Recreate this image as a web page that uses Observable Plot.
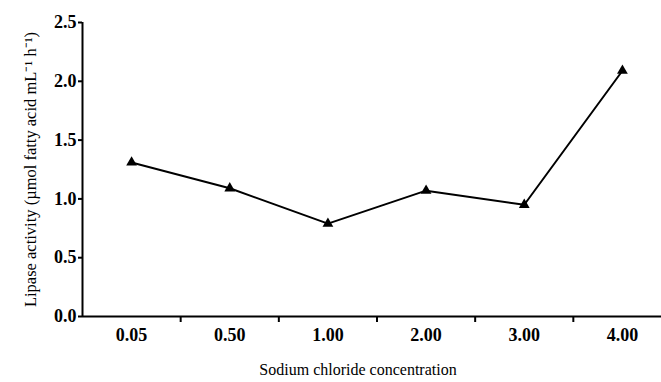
<!DOCTYPE html>
<html>
<head>
<meta charset="utf-8">
<script src="https://cdn.jsdelivr.net/npm/d3@7"></script>
<script src="https://cdn.jsdelivr.net/npm/@observablehq/plot@0.6"></script>
<style>
  html, body { margin: 0; padding: 0; background: #fff; }
  svg { display: block; }
</style>
</head>
<body>
<div id="chart"></div>
<script>
const categories = ["0.05", "0.50", "1.00", "2.00", "3.00", "4.00"];
const lipase = [1.31, 1.09, 0.79, 1.07, 0.95, 2.09];
const yTicks = [0, 0.5, 1.0, 1.5, 2.0, 2.5];
const xLabel = "Sodium chloride concentration";
const yLabel = "Lipase activity (\u00b5mol fatty acid mL\u207b\u00b9 h\u207b\u00b9)";

const data = categories.map((c, i) => ({i, c, v: lipase[i]}));
const idx = categories.map((c, i) => i);
const bounds = idx.slice(1).map(i => i - 0.5);

const font = "'Liberation Serif', 'Times New Roman', serif";

const chart = Plot.plot({
  width: 661,
  height: 382,
  marginLeft: 82,
  marginRight: 0,
  marginTop: 22,
  marginBottom: 66,
  style: {fontFamily: font, fontSize: "16px", color: "#000", background: "#fff"},
  x: {domain: [-0.5, categories.length - 0.5], range: [82, 671]},
  y: {domain: [0, 2.5]},
  marks: [
    Plot.axisY(yTicks, {tickSize: 4, tickPadding: 2, tickFormat: d3.format(".1f"), fontWeight: "bold", fontSize: 18, label: null, strokeWidth: 2}),
    Plot.axisX(bounds, {tickSize: 6, tickFormat: () => "", label: null, strokeWidth: 2}),
    Plot.axisX(idx, {tickSize: 0, tickPadding: 12, tickFormat: i => categories[i], fontWeight: "bold", fontSize: 18, label: null}),
    Plot.ruleY([0], {stroke: "#000", strokeWidth: 2}),
    Plot.ruleX([-0.5], {stroke: "#000", strokeWidth: 2}),
    Plot.line(data, {x: "i", y: "v", stroke: "#000", strokeWidth: 2}),
    Plot.dot(data, {x: "i", y: "v", symbol: "triangle", r: 4, fill: "#000", stroke: "none"}),
    Plot.text([xLabel], {frameAnchor: "bottom", textAnchor: "middle", dx: -14, dy: 53, fontSize: 16, fill: "#000", lineAnchor: "middle"}),
    Plot.text([yLabel], {frameAnchor: "left", textAnchor: "middle", rotate: -90, dx: -52, fontSize: 16.5, fill: "#000", lineAnchor: "middle"})
  ]
});
document.getElementById("chart").appendChild(chart);
</script>
</body>
</html>
